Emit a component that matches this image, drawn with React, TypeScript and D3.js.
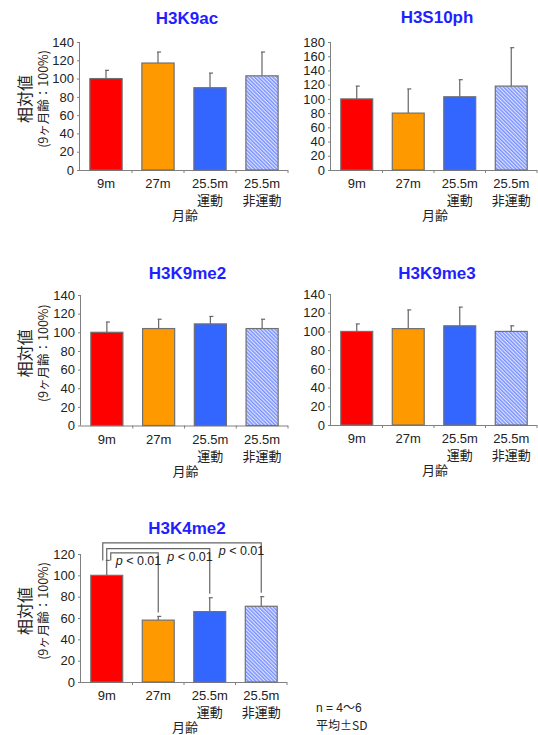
import * as d3 from "d3"
import { useEffect, useRef } from "react"

// categories (x labels, 2 lines)
const categories = ["9m", "27m", "25.5m\n運動", "25.5m\n非運動"]
const barColors = ["#ff0000", "#ff9900", "#3366ff", "url(#hatch)"]

// values (mean, SD)
const h3k9acMean = [100, 117, 90, 103]
const h3k9acSd = [9, 12, 16, 26]
const h3s10phMean = [100, 80, 103, 118]
const h3s10phSd = [18, 34, 24, 54]
const h3k9me2Mean = [100, 104, 109, 104]
const h3k9me2Sd = [11, 10, 8, 10]
const h3k9me3Mean = [100, 103, 106, 100]
const h3k9me3Sd = [8, 20, 20, 6]
const h3k4me2Mean = [100, 58, 66, 71]
const h3k4me2Sd = [14, 3.5, 13, 9]

// significance brackets for H3K4me2 (from 9m to others)
const sigTo = [1, 2, 3]
const sigLevel = [121, 125, 130.5]
const sigLabel = "< 0.01"

const FONT = "'Liberation Sans', Arial, 'Noto Sans CJK JP', sans-serif"
const JP = "'Noto Sans CJK JP', 'Liberation Sans', sans-serif"

export default function App() {
  const ref = useRef<SVGSVGElement>(null)

  useEffect(() => {
    document.body.style.margin = "0"
    const svg = d3.select(ref.current)
    svg.selectAll("*").remove()

    // hatched fill for the 非運動 bar
    const pat = svg.append("defs").append("pattern")
      .attr("id", "hatch")
      .attr("width", 2.6).attr("height", 2.6)
      .attr("patternUnits", "userSpaceOnUse")
      .attr("patternTransform", "rotate(-45)")
    pat.append("rect").attr("width", 2.6).attr("height", 2.6).attr("fill", "#dfe5ff")
    pat.append("rect").attr("width", 1.4).attr("height", 2.6).attr("fill", "#7890ff")

    const panels = [
      { title: "H3K9ac", mean: h3k9acMean, sd: h3k9acSd, max: 140, x0: 80, x1: 288, top: 42, bottom: 170, titleY: 24, ylab: true },
      { title: "H3S10ph", mean: h3s10phMean, sd: h3s10phSd, max: 180, x0: 331, x1: 537, top: 42, bottom: 170, titleY: 23, ylab: false },
      { title: "H3K9me2", mean: h3k9me2Mean, sd: h3k9me2Sd, max: 140, x0: 81, x1: 288, top: 295, bottom: 425.5, titleY: 279, ylab: true },
      { title: "H3K9me3", mean: h3k9me3Mean, sd: h3k9me3Sd, max: 140, x0: 331, x1: 537, top: 294, bottom: 425, titleY: 279, ylab: false },
      { title: "H3K4me2", mean: h3k4me2Mean, sd: h3k4me2Sd, max: 120, x0: 81, x1: 287, top: 554, bottom: 682, titleY: 534, ylab: true },
    ]

    panels.forEach((p, pi) => {
      const g = svg.append("g")
      const x = d3.scaleBand<string>().domain(categories)
        .range([p.x0, p.x1]).paddingInner(0.38).paddingOuter(0.19)
      const y = d3.scaleLinear().domain([0, p.max]).range([p.bottom, p.top])

      // title
      g.append("text")
        .attr("x", (p.x0 + p.x1) / 2 + 3).attr("y", p.titleY)
        .attr("text-anchor", "middle")
        .attr("font-family", FONT).attr("font-weight", "bold").attr("font-size", 17)
        .attr("fill", "#1f1fff")
        .text(p.title)

      // y axis
      const ya = g.append("g").attr("transform", `translate(${p.x0},0)`)
        .call(d3.axisLeft(y).tickValues(d3.range(0, p.max + 1, 20)).tickSize(3).tickPadding(3))
      ya.select(".domain").attr("stroke", "#808080").attr("d", `M-0.5,${p.top}V${p.bottom}`)
      ya.selectAll(".tick line").attr("stroke", "#808080")
      ya.selectAll("text").attr("font-family", FONT).attr("font-size", 13).attr("fill", "#222")

      // x axis
      g.append("line")
        .attr("x1", p.x0).attr("x2", p.x1)
        .attr("y1", p.bottom + 0.5).attr("y2", p.bottom + 0.5)
        .attr("stroke", "#808080")
      const step = x.step()
      g.selectAll(".xt").data(d3.range(1, 5)).enter().append("line")
        .attr("x1", i => p.x0 + i * step).attr("x2", i => p.x0 + i * step)
        .attr("y1", p.bottom).attr("y2", p.bottom + 3)
        .attr("stroke", "#808080")

      // x labels
      categories.forEach(c => {
        const lines = c.split("\n")
        lines.forEach((ln, li) => {
          g.append("text")
            .attr("x", x(c)! + x.bandwidth() / 2).attr("y", p.bottom + 18 + li * 17)
            .attr("text-anchor", "middle")
            .attr("font-family", li === 0 ? FONT : JP).attr("font-size", 13).attr("fill", "#222")
            .text(ln)
        })
      })
      g.append("text")
        .attr("x", (p.x0 + p.x1) / 2 + 1).attr("y", p.bottom + 50)
        .attr("text-anchor", "middle")
        .attr("font-family", JP).attr("font-size", 13).attr("fill", "#222")
        .text("月齢")

      // y label
      if (p.ylab) {
        const cy = (p.top + p.bottom) / 2 - 7
        g.append("text")
          .attr("transform", `translate(31,${cy}) rotate(-90)`)
          .attr("text-anchor", "middle")
          .attr("font-family", JP).attr("font-size", 16).attr("fill", "#222")
          .text("相対値")
        g.append("text")
          .attr("transform", `translate(48,${cy}) rotate(-90)`)
          .attr("text-anchor", "middle")
          .attr("font-family", JP).attr("font-size", 12.5).attr("fill", "#222")
          .text("(9ヶ月齢：100%)")
      }

      // error bars
      g.selectAll(".err").data(p.mean).enter().append("g").each(function (d, i) {
        const cx = x(categories[i])! + x.bandwidth() / 2
        const e = d3.select(this)
        e.append("line").attr("x1", cx).attr("x2", cx)
          .attr("y1", y(d)).attr("y2", y(d + p.sd[i]))
          .attr("stroke", "#666").attr("stroke-width", 1.2)
        e.append("line").attr("x1", cx - 1).attr("x2", cx + 3)
          .attr("y1", y(d + p.sd[i])).attr("y2", y(d + p.sd[i]))
          .attr("stroke", "#666").attr("stroke-width", 1.2)
      })

      // bars
      g.selectAll(".bar").data(p.mean).enter().append("rect")
        .attr("x", (d, i) => x(categories[i])!)
        .attr("y", d => y(d))
        .attr("width", x.bandwidth())
        .attr("height", d => p.bottom - y(d))
        .attr("fill", (d, i) => barColors[i])
        .attr("stroke", "#707070").attr("stroke-width", 1.2)

      // significance brackets (last panel)
      if (pi === 4) {
        const c0 = x(categories[0])! + x.bandwidth() / 2
        const startTop = y(p.mean[0] + p.sd[0])
        sigTo.forEach((t, k) => {
          const ly = y(sigLevel[k])
          const lx = c0 + 4 - k * 4
          const rx = x(categories[t])! + x.bandwidth() / 2
          const endY = y(p.mean[t] + p.sd[t]) - 4
          g.append("path")
            .attr("d", `M${lx},${startTop}V${ly}H${rx}V${endY}`)
            .attr("fill", "none").attr("stroke", "#666").attr("stroke-width", 1.2)
          const lab = g.append("text")
            .attr("x", x(categories[t - 1])! + x.bandwidth() / 2 + 9)
            .attr("y", ly + 12)
            .attr("font-family", FONT).attr("font-size", 12.5).attr("fill", "#222")
          lab.append("tspan").attr("font-style", "italic").text("p")
          lab.append("tspan").text(" " + sigLabel)
        })
      }
    })

    // footnote
    svg.append("text").attr("x", 316).attr("y", 712)
      .attr("font-family", FONT).attr("font-size", 12).attr("fill", "#222")
      .text("n = 4〜6")
    svg.append("text").attr("x", 316).attr("y", 730)
      .attr("font-family", JP).attr("font-size", 12).attr("fill", "#222")
      .text("平均±SD")
  }, [])

  return <svg ref={ref} width={538} height={735} style={{ display: "block", background: "#fff" }} />
}
